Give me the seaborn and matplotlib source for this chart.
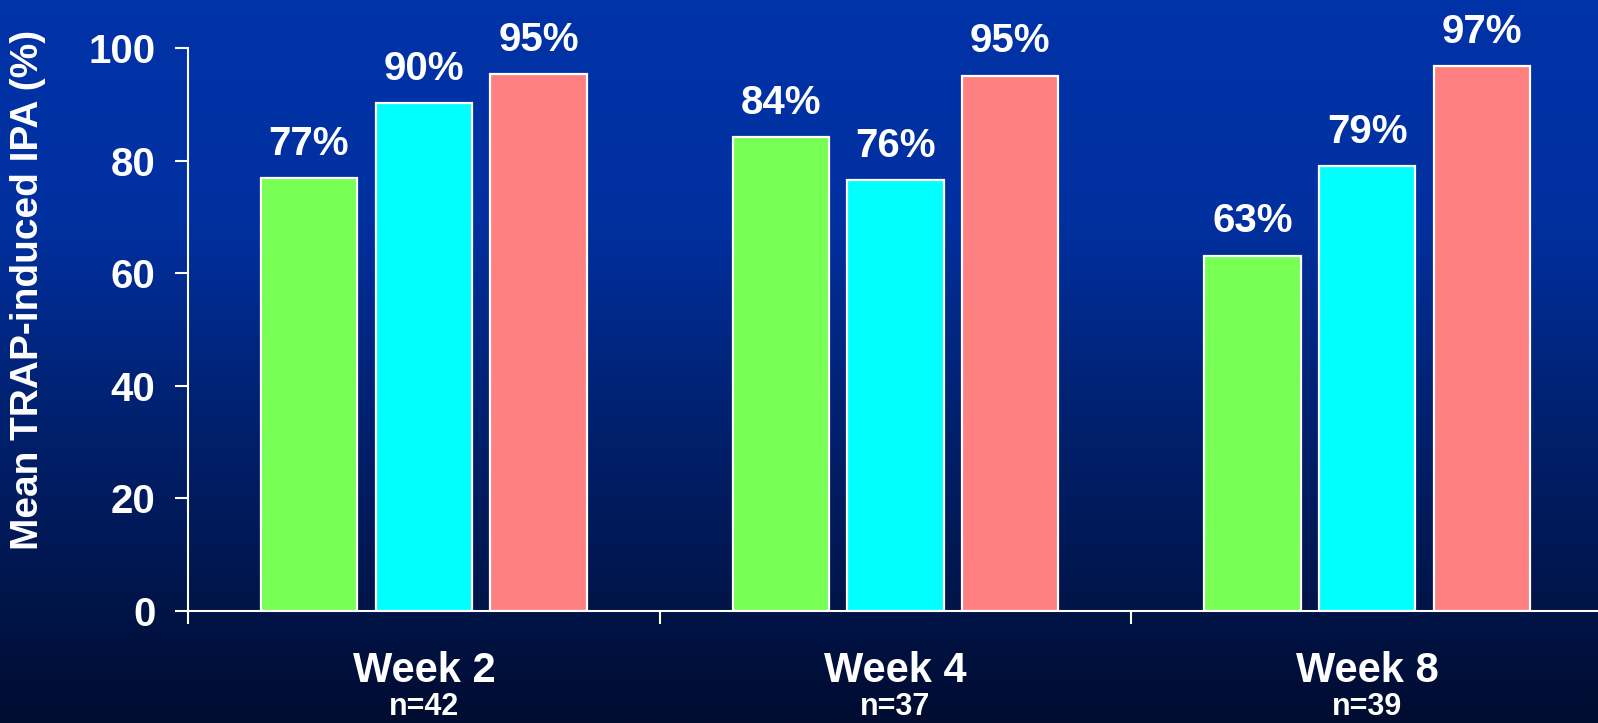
import numpy as np
import pandas as pd
import matplotlib
matplotlib.use("Agg")
import matplotlib.pyplot as plt
import seaborn as sns
from matplotlib.colors import LinearSegmentedColormap
import matplotlib.transforms as mtransforms

# ---- data ----
weeks = ["Week 2", "Week 4", "Week 8"]
n_labels = ["n=42", "n=37", "n=39"]
groups = ["Group A", "Group B", "Group C"]
values_a = [76.9, 84.2, 63.1]
values_b = [90.2, 76.5, 79.0]
values_c = [95.4, 95.1, 96.8]
labels_a = ["77%", "84%", "63%"]
labels_b = ["90%", "76%", "79%"]
labels_c = ["95%", "95%", "97%"]
colors = ["#77FF55", "#00FFFF", "#FF8080"]
yticks = [0, 20, 40, 60, 80, 100]

df = pd.DataFrame({
    "week": weeks * 3,
    "group": [groups[0]] * 3 + [groups[1]] * 3 + [groups[2]] * 3,
    "value": values_a + values_b + values_c,
})

sns.set_theme(style="white")
plt.rcParams["font.family"] = ["Liberation Sans", "DejaVu Sans"]
plt.rcParams["font.weight"] = "bold"

W, H, DPI = 1598, 723, 100
fig = plt.figure(figsize=(W / DPI, H / DPI), dpi=DPI)

# gradient background
bg = fig.add_axes([0, 0, 1, 1], zorder=-10)
cmap = LinearSegmentedColormap.from_list(
    "bg",
    [(0.0, (0 / 255, 51 / 255, 168 / 255)),
     (0.30, (0 / 255, 48 / 255, 160 / 255)),
     (0.55, (0 / 255, 34 / 255, 115 / 255)),
     (0.80, (0 / 255, 22 / 255, 78 / 255)),
     (1.0, (0 / 255, 12 / 255, 48 / 255))])
grad = np.linspace(0, 1, 256).reshape(-1, 1)
bg.imshow(grad, aspect="auto", cmap=cmap, extent=[0, 1, 0, 1], origin="upper")
bg.axis("off")

ax = fig.add_axes([188 / W, (H - 611) / H, (1603 - 188) / W, 563 / H])
ax.patch.set_alpha(0)

sns.barplot(data=df, x="week", y="value", hue="group", hue_order=groups,
            palette=colors, width=0.73, gap=0.16, edgecolor="white",
            linewidth=1.6, saturation=1, legend=False, ax=ax, zorder=3)

for cont, labs in zip(ax.containers, [labels_a, labels_b, labels_c]):
    ax.bar_label(cont, labels=labs, padding=11, color="white", fontsize=29,
                 fontweight="bold", clip_on=False)

ax.set_xlim(-0.5, 2.5)
ax.set_ylim(0, 100)
ax.set_yticks(yticks)
ax.set_yticklabels([str(v) for v in yticks], fontsize=29, fontweight="bold", color="white")
ax.set_xticks([-0.5, 0.5, 1.5, 2.5])
ax.set_xticklabels([])
ax.tick_params(axis="y", length=9.5, width=1.5, color="white", pad=14, left=True)
ax.tick_params(axis="x", length=9, width=1.5, color="white", bottom=True)
ax.set_xlabel("")
ax.set_ylabel("")
for s in ["top", "right"]:
    ax.spines[s].set_visible(False)
for s in ["left", "bottom"]:
    ax.spines[s].set_color("white")
    ax.spines[s].set_linewidth(1.5)
    ax.spines[s].set_zorder(4)

trans = mtransforms.blended_transform_factory(ax.transData, ax.transAxes)
for i, (wk, nl) in enumerate(zip(weeks, n_labels)):
    ax.text(i, -0.126, wk, transform=trans, ha="center", va="baseline",
            fontsize=30, fontweight="bold", color="white")
    ax.text(i, -0.198, nl, transform=trans, ha="center", va="bottom",
            fontsize=22, fontweight="bold", color="white")

fig.text(28 / W, 1 - 290 / H, "Mean TRAP-induced IPA (%)", rotation=90,
         ha="center", va="center", fontsize=28, fontweight="bold", color="white")

fig.savefig("out.png", dpi=DPI)
